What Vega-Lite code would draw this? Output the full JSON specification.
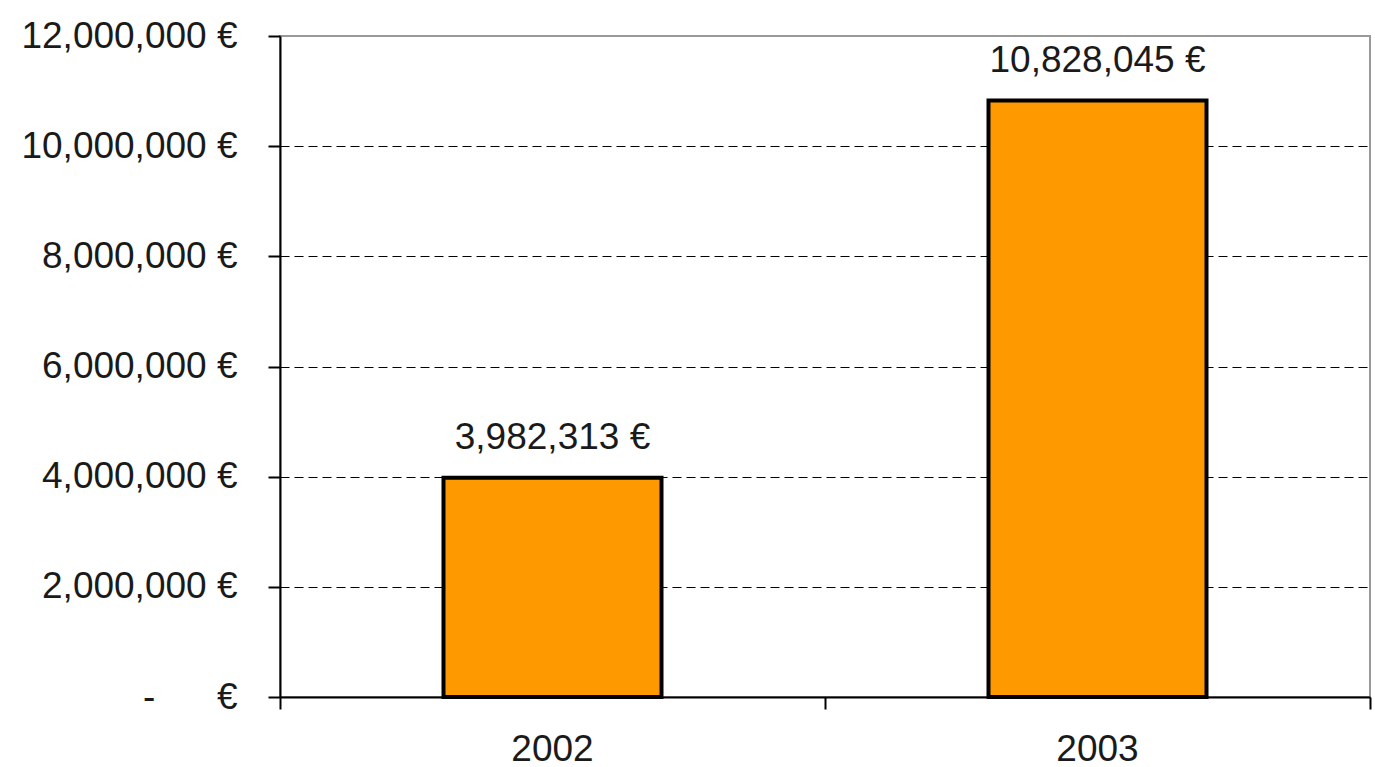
{
  "$schema": "https://vega.github.io/schema/vega-lite/v6.json",
  "autosize": "none",
  "width": 1090,
  "height": 661,
  "padding": {"left": 280, "top": 36, "right": 5, "bottom": 70},
  "background": "white",
  "config": {
    "font": "Liberation Sans",
    "view": {"stroke": "#999999", "strokeWidth": 2, "fill": "white"}
  },
  "data": {"values": [
    {"year": "2002", "amount": 3982313, "label": "3,982,313 €"},
    {"year": "2003", "amount": 10828045, "label": "10,828,045 €"}
  ]},
  "encoding": {
    "x": {"field": "year", "type": "nominal",
      "scale": {"paddingInner": 0, "paddingOuter": 0}},
    "y": {"field": "amount", "type": "quantitative",
      "scale": {"domain": [0, 12000000], "nice": false, "zero": true},
      "axis": {
        "title": null,
        "values": [0, 2000000, 4000000, 6000000, 8000000, 10000000, 12000000],
        "labelExpr": "datum.value == 0 ? '-\u00a0\u00a0\u00a0\u00a0\u00a0\u00a0€' : format(datum.value, ',') + ' €'",
        "labelFont": "Liberation Sans",
        "labelFontSize": 37,
        "labelLimit": 0,
        "labelColor": "#1a1a1a",
        "labelPadding": 31,
        "tickSize": 12,
        "tickColor": "black",
        "tickWidth": 2,
        "domainColor": "black",
        "domainWidth": 2,
        "grid": true,
        "gridColor": "black",
        "gridWidth": 1.2,
        "gridDash": [9, 5],
        "gridOpacity": {"condition": {"test": "datum.value == 0 || datum.value == 12000000", "value": 0}, "value": 1}
      }}
  },
  "layer": [
    {
      "mark": {"type": "bar", "width": {"band": 0.4}, "fill": "#FF9900", "stroke": "black", "strokeWidth": 4},
      "encoding": {
        "x": {"field": "year", "type": "nominal",
          "axis": {"title": null, "orient": "bottom", "ticks": false, "domain": false, "labelAngle": 0,
            "labelFont": "Liberation Sans", "labelFontSize": 37, "labelColor": "#1a1a1a", "labelPadding": 34}}
      }
    },
    {
      "mark": {"type": "text", "baseline": "alphabetic", "dy": -29, "fontSize": 37, "font": "Liberation Sans", "color": "#1a1a1a"},
      "encoding": {
        "x": {"field": "year", "type": "nominal",
          "axis": {"title": null, "orient": "bottom", "labels": false, "ticks": true, "bandPosition": 1, "tickExtra": true,
            "tickSize": 12, "tickColor": "black", "tickWidth": 2, "domain": true, "domainColor": "black", "domainWidth": 2}},
        "text": {"field": "label"}
      }
    }
  ],
  "resolve": {"axis": {"x": "independent"}}
}
